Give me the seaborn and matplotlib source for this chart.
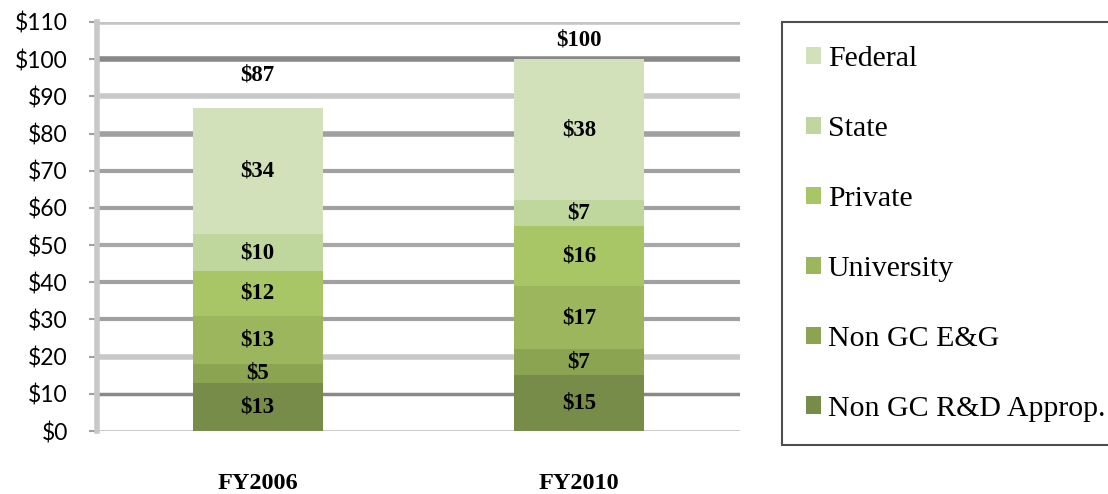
import matplotlib.pyplot as plt
import seaborn as sns
import pandas as pd
import numpy as np
from matplotlib.patches import Patch

years = ["FY2006", "FY2010"]
sources = ["Non GC R&D Approp.", "Non GC E&G", "University", "Private", "State", "Federal"]
non_gc_rd = [13, 15]
non_gc_eg = [5, 7]
university = [13, 17]
private = [12, 16]
state = [10, 7]
federal = [34, 38]
totals = [87, 100]

colors = ["#768c48", "#8aa452", "#9bb65d", "#a8c665", "#bfd69c", "#d2e1b9"]

# long table of segments, with running tops for stacking
layers = [non_gc_rd, non_gc_eg, university, private, state, federal]
df = pd.DataFrame({
    "year": np.repeat(years, len(sources)),
    "source": sources * len(years),
    "value": np.array(layers).T.ravel(),
})
df["top"] = df.groupby("year")["value"].cumsum()
df["bottom"] = df["top"] - df["value"]

sns.set_style("white")
fig = plt.figure(figsize=(11.08, 4.94), dpi=100)
ax = fig.add_axes([0.0875, 0.1275, 0.580, 0.828])

# gridlines look uneven in the original, keep that look
grid_styles = {0: ("#c4c4c4", 2), 10: ("#888888", 2.5), 20: ("#c8c8c8", 4),
               30: ("#a0a0a0", 3), 40: ("#a0a0a0", 3), 50: ("#a8a8a8", 3),
               60: ("#a0a0a0", 3), 70: ("#a0a0a0", 3), 80: ("#a0a0a0", 4),
               90: ("#c8c8c8", 4), 100: ("#888888", 4), 110: ("#c4c4c4", 4)}
for yv, (c, lw) in grid_styles.items():
    ax.axhline(yv, color=c, lw=lw, zorder=0)

# draw from the top layer down so each shorter bar covers the one behind
for src, col in reversed(list(zip(sources, colors))):
    sub = df[df["source"] == src]
    sns.barplot(data=sub, x="year", y="top", order=years, color=col,
                width=0.405, saturation=1, ax=ax, zorder=2, linewidth=0)

for _, r in df.iterrows():
    ax.text(years.index(r["year"]), (r["bottom"] + r["top"]) / 2, f"${r['value']}",
            ha="center", va="center", fontsize=16.5, fontweight="bold",
            family="Liberation Serif", color="black", zorder=3)

total_gap = [8.7, 5.2]
for i, t in enumerate(totals):
    ax.text(i, t + total_gap[i], f"${t}", ha="center", va="center", fontsize=16.5,
            fontweight="bold", family="Liberation Serif", color="black")

ax.set_ylim(0, 110)
ax.set_xlim(-0.5, 1.5)
ax.set_yticks(range(0, 111, 10))
ax.set_yticklabels([f"${v}" for v in range(0, 111, 10)], family="Lato",
                   fontsize=16.5, color="black")
ax.set_xlabel("")
ax.set_ylabel("")
for lab in ax.get_xticklabels():
    lab.set_fontfamily("Liberation Serif")
    lab.set_fontweight("bold")
    lab.set_fontsize(17.5)
    lab.set_color("black")
ax.tick_params(axis="x", length=0, pad=30)
ax.tick_params(axis="y", length=6, width=1.5, color="#a0a0a0", pad=15, left=True)
for s in ["top", "right", "bottom"]:
    ax.spines[s].set_visible(False)
ax.spines["left"].set_color("#c8c8c8")
ax.spines["left"].set_linewidth(4)

handles = [Patch(facecolor=c, edgecolor="none") for c in colors][::-1]
leg = fig.legend(handles, sources[::-1], loc="upper left",
                 bbox_to_anchor=(0.706, 0.955), frameon=True, fancybox=False,
                 prop={"family": "Liberation Serif", "size": 21.5},
                 handlelength=0.5, handleheight=0.5, handletextpad=0.22,
                 labelspacing=1.47, borderpad=0.8, borderaxespad=0)
for t in leg.get_texts():
    t.set_color("black")
leg.get_frame().set_edgecolor("#222222")
leg.get_frame().set_linewidth(1.5)

plt.savefig("out.png", dpi=100)
